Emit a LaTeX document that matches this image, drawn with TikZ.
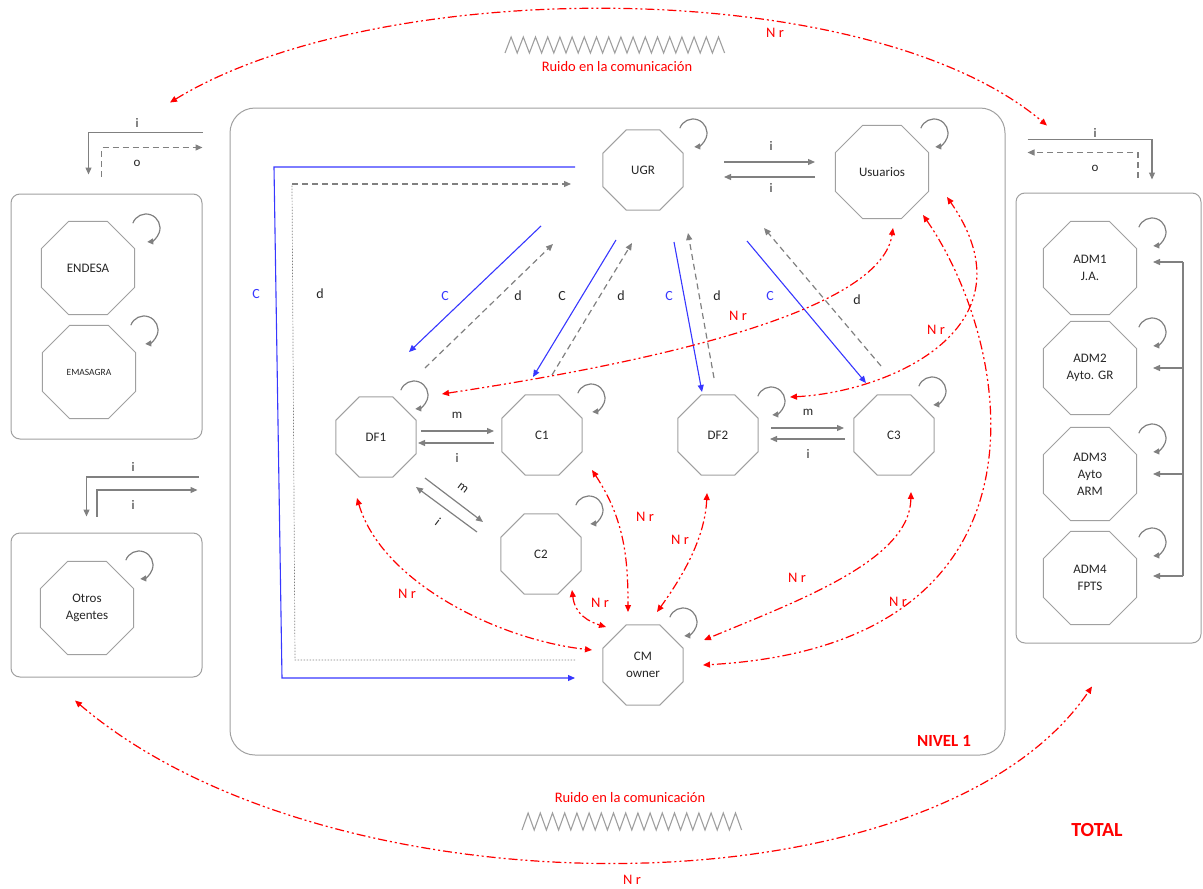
\documentclass[tikz,border=0pt]{standalone}
\usepackage{fontspec}
\setmainfont{Carlito}
\usetikzlibrary{arrows.meta}
\usetikzlibrary{calc}
\usetikzlibrary{shapes.geometric}
\usetikzlibrary{positioning}

\definecolor{linegray}{RGB}{128,128,128}
\definecolor{agentgray}{RGB}{160,160,160}
\definecolor{ctrlblue}{RGB}{55,55,255}
\definecolor{nrred}{RGB}{255,0,0}

\tikzset{
    agent/.style={
        draw=agentgray,
        line width=1pt,
        regular polygon,
        regular polygon sides=8,
        minimum size=87pt,
        inner sep=0pt,
        align=center,
        text=black!85,
        font=\fontsize{13}{17}\selectfont,
    },
    big agent/.style={
        agent,
        minimum size=101pt,
    },
    panel/.style={
        draw=agentgray,
        line width=1pt,
        rounded corners=9pt,
        inner sep=0pt,
    },
    info arrow/.style={
        draw=linegray,
        line width=1.2pt,
        -{Triangle[length=7pt,width=6pt]},
    },
    data arrow/.style={
        info arrow,
        dash pattern=on 6pt off 4pt,
    },
    data line/.style={
        draw=linegray,
        line width=0.7pt,
        dash pattern=on 1.5pt off 1.5pt,
    },
    control arrow/.style={
        draw=ctrlblue,
        line width=1.1pt,
        -{Triangle[length=7pt,width=6pt]},
    },
    loop arrow/.style={
        draw=linegray,
        line width=1.2pt,
        -{Triangle[length=6pt,width=6pt]},
    },
    noise link/.style={
        draw=nrred,
        line width=1.2pt,
        dash pattern=on 9pt off 3pt on 2pt off 3pt on 2pt off 3pt,
        {Triangle[length=7pt,width=6pt]}-{Triangle[length=7pt,width=6pt]},
    },
    noise wave/.style={
        draw=gray!75,
        line width=1.1pt,
    },
    flow label/.style={
        text=black!85,
        font=\fontsize{13}{15}\selectfont,
        inner sep=1pt,
    },
    ctrl label/.style={
        text=ctrlblue,
        font=\fontsize{14}{16}\selectfont,
        inner sep=1pt,
    },
    nr label/.style={
        text=nrred,
        font=\fontsize{14.5}{16}\selectfont,
        inner sep=1pt,
    },
    level label/.style={
        text=nrred,
        font=\bfseries\fontsize{17}{19}\selectfont,
        inner sep=1pt,
    },
}

\newcommand\agentloop[3]{
    \draw[loop arrow] ($(#1.center)+(#2,#3)$) ++(160:14pt) arc[start angle=160, end angle=-85, radius=14pt];
}

\begin{document}
\begin{tikzpicture}[x=1pt, y=-1pt]

    \useasboundingbox (0,0) rectangle (1203,889);

    % panels
    \node[panel, rounded corners=25pt, minimum width=775pt, minimum height=647pt] (mainbox) at (617.5,431.5) {};
    \node[panel, minimum width=191pt, minimum height=245pt] (lbox1) at (106.5,316.5) {};
    \node[panel, minimum width=191pt, minimum height=144pt] (lbox2) at (106.5,605) {};
    \node[panel, minimum width=185pt, minimum height=450pt] (rbox) at (1108.5,418) {};

    % agents
    \node[agent] (ugr) at (643,170) {UGR};
    \node[big agent] (usr) at (882,172) {Usuarios};
    \node[agent] (df1) at (376,437) {DF1};
    \node[agent] (c1) at (542,435) {C1};
    \node[agent] (df2) at (718,435) {DF2};
    \node[agent] (c3) at (894,435) {C3};
    \node[agent] (c2) at (541,554) {C2};
    \node[agent] (cm) at (643,665) {CM\\owner};
    \node[big agent] (endesa) at (88,268) {ENDESA};
    \node[big agent, font=\fontsize{9.5}{11}\selectfont] (emasagra) at (89,372) {EMASAGRA};
    \node[big agent] (otros) at (87,608) {Otros\\Agentes};
    \node[big agent] (adm1) at (1090,268) {ADM1\\J.A.};
    \node[big agent] (adm2) at (1090,368) {ADM2\\Ayto. GR};
    \node[big agent] (adm3) at (1090,474) {ADM3\\Ayto\\ARM};
    \node[big agent] (adm4) at (1090,578) {ADM4\\FPTS};

    \agentloop{ugr}{50}{-37}
    \agentloop{usr}{52}{-39}
    \agentloop{df1}{38}{-42}
    \agentloop{c1}{49}{-37}
    \agentloop{df2}{53}{-34}
    \agentloop{c3}{38}{-44}
    \agentloop{c2}{48}{-44}
    \agentloop{cm}{40}{-43}
    \agentloop{endesa}{58}{-40}
    \agentloop{emasagra}{55}{-42}
    \agentloop{otros}{52}{-43}
    \foreach \n in {adm1,adm2,adm3,adm4}
    {
        \agentloop{\n}{62}{-36}
    }

    % UGR <-> CM owner
    \draw[control arrow] ($(ugr.center)+(-68,-3)$) -- (274,167) -- (282,678) -- ($(cm.center)+(-68,13)$);
    \draw[data line] ($(cm.center)+(-68,-5)$) -- (295,660) -- (292,184);
    \draw[data arrow] (292,184) -- ($(ugr.center)+(-72,14)$);
    \node[ctrl label] (lc0) at (256,294) {C};
    \node[flow label, font=\fontsize{14}{16}\selectfont] (ld0) at (320,294) {d};

    % UGR <-> DF1, C1, DF2, C3
    \draw[control arrow] ($(ugr.center)+(-102,56)$) -- ($(df1.center)+(33,-85)$);
    \draw[data arrow] ($(df1.center)+(49,-69)$) -- ($(ugr.center)+(-90,74)$);
    \draw[control arrow] ($(ugr.center)+(-27,70)$) -- ($(c1.center)+(-9,-58)$);
    \draw[data arrow] ($(c1.center)+(10,-60)$) -- ($(ugr.center)+(-11,73)$);
    \draw[control arrow] ($(ugr.center)+(31,72)$) -- ($(df2.center)+(-16,-43)$);
    \draw[data arrow] ($(df2.center)+(-4,-57)$) -- ($(ugr.center)+(45,63)$);
    \draw[control arrow] ($(ugr.center)+(104,71)$) -- ($(c3.center)+(-28,-52)$);
    \draw[data arrow] ($(c3.center)+(-13,-69)$) -- ($(ugr.center)+(121,58)$);
    \node[ctrl label] (lc1) at (445,296) {C};
    \node[flow label, font=\fontsize{14}{16}\selectfont] (ld1) at (518,296) {d};
    \node[ctrl label, text=black!85] (lc2) at (562,296) {C};
    \node[flow label, font=\fontsize{14}{16}\selectfont] (ld2) at (621,296) {d};
    \node[ctrl label] (lc3) at (669,296) {C};
    \node[flow label, font=\fontsize{14}{16}\selectfont] (ld3) at (717,296) {d};
    \node[ctrl label] (lc4) at (770,296) {C};
    \node[flow label, font=\fontsize{14}{16}\selectfont] (ld4) at (857,300) {d};

    % information and material flows
    \draw[info arrow] ($(ugr.center)+(81,-8)$) -- ($(usr.center)+(-67,-10)$);
    \draw[info arrow] ($(usr.center)+(-67,5)$) -- ($(ugr.center)+(81,7)$);
    \node[flow label] (li1) at (771,146) {i};
    \node[flow label] (li2) at (771,188) {i};

    \draw[info arrow] ($(df1.center)+(45,-6)$) -- ($(c1.center)+(-48,-4)$);
    \draw[info arrow] ($(c1.center)+(-48,8)$) -- ($(df1.center)+(42,6)$);
    \node[flow label] (lm1) at (457,415) {m};
    \node[flow label] (li3) at (457,458) {i};

    \draw[info arrow] ($(df1.center)+(49,41)$) -- ($(c2.center)+(-58,-32)$);
    \draw[info arrow] ($(c2.center)+(-64,-22)$) -- ($(df1.center)+(40,50)$);
    \node[flow label, rotate=-37] (lm2) at (463,488) {m};
    \node[flow label, rotate=-37] (li4) at (438,522) {i};

    \draw[info arrow] ($(df2.center)+(53,-7)$) -- ($(c3.center)+(-50,-7)$);
    \draw[info arrow] ($(c3.center)+(-49,4)$) -- ($(df2.center)+(52,4)$);
    \node[flow label] (lm3) at (808,412) {m};
    \node[flow label] (li5) at (808,454) {i};

    % links of the panels
    \draw[info arrow] ($(mainbox.north west)+(-27,25)$) -| ($(lbox1.north)+(-18,-19)$);
    \draw[data arrow] ($(lbox1.north)+(-5,-17)$) |- ($(mainbox.north west)+(-27,40)$);
    \node[flow label] (li6) at (137,123) {i};
    \node[flow label] (lo1) at (137,163) {o};

    \draw[info arrow] ($(mainbox.west)+(-31,45.5)$) -| ($(lbox2.north)+(-20,-16)$);
    \draw[info arrow] ($(lbox2.north)+(-9.5,-16)$) |- ($(mainbox.west)+(-32,58.5)$);
    \node[flow label] (li7) at (133,467) {i};
    \node[flow label] (li8) at (133,505) {i};

    \draw[info arrow] ($(mainbox.north east)+(22,32)$) -| ($(rbox.north)+(43.5,-13)$);
    \draw[data arrow] ($(rbox.north)+(29.5,-15)$) |- ($(mainbox.north east)+(22,45)$);
    \node[flow label] (li9) at (1095,133) {i};
    \node[flow label] (lo2) at (1095,168) {o};

    \draw[info arrow, -] (1183,262) -- (1183,576);
    \foreach \n/\dy in {adm1/-6,adm2/0,adm3/0,adm4/-2}
    {
        \draw[info arrow] ($(\n.center)+(93,\dy)$) -- ++(-30,0);
    }

    % noise
    \draw[noise link] ($(lbox1.north)+(63.5,-91)$) .. controls +(210,-128) and +(-179,-151) .. ($(rbox.north)+(-61.5,-67)$);
    \draw[noise link] ($(lbox2.south)+(-31.5,23)$) .. controls +(255,218) and +(-158,232) .. ($(rbox.south)+(-16.5,43)$);
    \draw[noise link] ($(df1.center)+(66,-43)$) .. controls +(158,-24) and +(-13,92) .. ($(usr.center)+(11,56)$);
    \draw[noise link] ($(df2.center)+(72,-38)$) .. controls +(100,-5) and +(90,130) .. ($(usr.center)+(65,25)$);
    \draw[noise link] ($(usr.center)+(41,43)$) .. controls +(90,130) and +(365,-20) .. ($(cm.center)+(60,0)$);
    \draw[noise link] ($(df1.center)+(-19,61)$) .. controls +(25,85) and +(-92,-10) .. ($(cm.center)+(-51,-15)$);
    \draw[noise link] ($(c1.center)+(50,35)$) .. controls +(33,50) and +(0,-52) .. ($(cm.center)+(-15,-53)$);
    \draw[noise link] ($(c2.center)+(31,36)$) .. controls +(3,25) and +(-16,-5) .. ($(cm.center)+(-37,-38)$);
    \draw[noise link] ($(df2.center)+(-11,58)$) .. controls +(-2,47) and +(23,-32) .. ($(cm.center)+(14,-53)$);
    \draw[noise link] ($(c3.center)+(17,57)$) .. controls +(-1,68) and +(96,-40) .. ($(cm.center)+(61,-25)$);

    \node[nr label] (nr1) at (775,33) {N r};
    \node[nr label] (nr2) at (738,316) {N r};
    \node[nr label] (nr3) at (936,330) {N r};
    \node[nr label] (nr4) at (407,594) {N r};
    \node[nr label] (nr5) at (645,517) {N r};
    \node[nr label] (nr6) at (600,603) {N r};
    \node[nr label] (nr7) at (680,540) {N r};
    \node[nr label] (nr8) at (797,578) {N r};
    \node[nr label] (nr9) at (898,602) {N r};
    \node[nr label] (nr10) at (632,880) {N r};

    \draw[noise wave] (505,53) \foreach \k in {1,...,18} {-- ++(6.1,-16) -- ++(6.1,16)};
    \draw[noise wave] (522,830) \foreach \k in {1,...,18} {-- ++(6.1,-17) -- ++(6.1,17)};
    \node[nr label] (ruido1) at (617,67) {Ruido en la comunicación};
    \node[nr label] (ruido2) at (630,798) {Ruido en la comunicación};

    \node[level label] (nivel) at (944,741) {NIVEL 1};
    \node[level label, font=\bfseries\fontsize{20}{22}\selectfont] (total) at (1097,830) {TOTAL};

\end{tikzpicture}
\end{document}
